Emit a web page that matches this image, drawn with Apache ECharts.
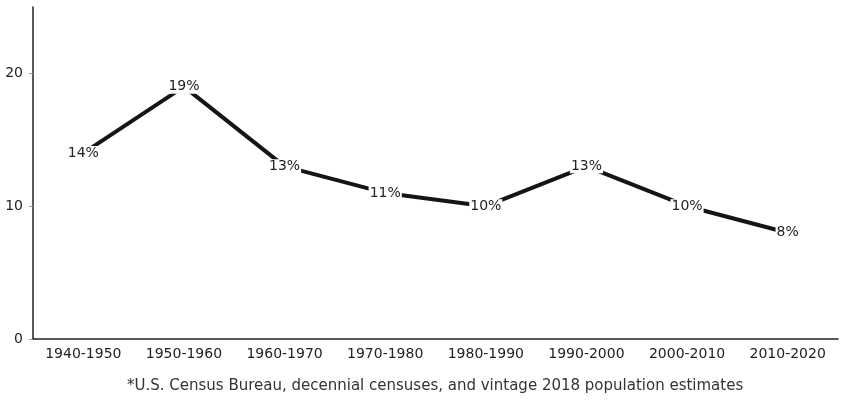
<!DOCTYPE html>
<html>
<head>
<meta charset="utf-8">
<script src="https://cdn.jsdelivr.net/npm/echarts@6/dist/echarts.min.js"></script>
<style>
  html, body { margin: 0; padding: 0; background: #fff; }
  #chart { width: 841px; height: 406px; }
</style>
</head>
<body>
<div id="chart"></div>
<script>
const decades = ['1940-1950', '1950-1960', '1960-1970', '1970-1980', '1980-1990', '1990-2000', '2000-2010', '2010-2020'];
const growth = [14, 19, 13, 11, 10, 13, 10, 8];
const yTicks = [0, 10, 20];
const note = '*U.S. Census Bureau, decennial censuses, and vintage 2018 population estimates';

const chart = echarts.init(document.getElementById('chart'));

chart.setOption({
  animation: false,
  textStyle: { fontFamily: 'DejaVu Sans, sans-serif' },
  grid: { left: 33, right: 3, top: 7, bottom: 67 },
  title: {
    text: note,
    left: 122,
    top: 374,
    textStyle: { fontSize: 15, fontWeight: 'normal', color: '#333', fontFamily: 'DejaVu Sans, sans-serif' }
  },
  xAxis: {
    type: 'category',
    data: decades,
    boundaryGap: true,
    axisLine: { lineStyle: { color: '#222', width: 1.5 } },
    axisTick: { length: 5, lineStyle: { color: '#555' } },
    axisLabel: { color: '#222', fontSize: 14, margin: 8 }
  },
  yAxis: {
    type: 'value',
    min: 0,
    max: 25,
    interval: 5,
    splitLine: { show: false },
    axisLine: { show: true, lineStyle: { color: '#222', width: 1.5 } },
    axisTick: { show: true, length: 4, customValues: yTicks, lineStyle: { color: '#999' } },
    axisLabel: { color: '#222', fontSize: 14, margin: 10, customValues: yTicks }
  },
  series: [{
    type: 'line',
    data: growth,
    showSymbol: true,
    symbol: 'circle',
    symbolSize: 1,
    itemStyle: { color: '#151515' },
    lineStyle: { color: '#151515', width: 4 },
    label: {
      show: true,
      position: 'inside',
      formatter: p => p.value + '%',
      color: '#222',
      fontSize: 14,
      backgroundColor: '#fff',
      padding: [0, 1]
    }
  }]
});
</script>
</body>
</html>
